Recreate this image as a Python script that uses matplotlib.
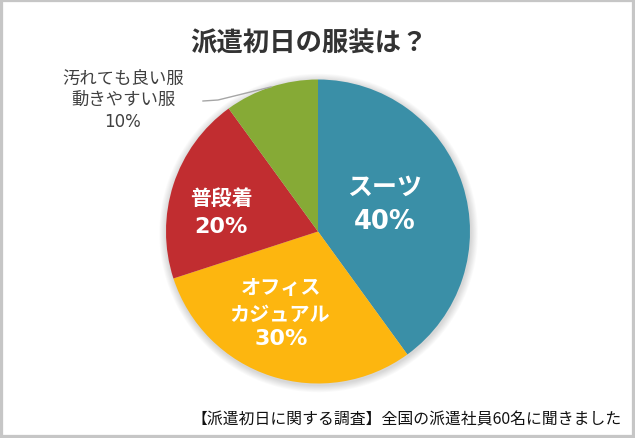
import numpy as np
import matplotlib
matplotlib.use("Agg")
import matplotlib.pyplot as plt
from matplotlib.patches import Rectangle, Circle

plt.rcParams['font.family'] = ['Noto Sans CJK JP', 'DejaVu Sans']

categories = ["スーツ", "オフィス\nカジュアル", "普段着", "汚れても良い服\n動きやすい服"]
values = [40, 30, 20, 10]
colors = ["#3A8FA7", "#FDB60F", "#C12D30", "#86AA36"]

W, H = 635, 439
fig = plt.figure(figsize=(W / 100, H / 100), dpi=100)
fig.patch.set_facecolor("white")

R = 152.0
CX, CY = 318.0, 232.5
ax = fig.add_axes([0, 0, 1, 1])

def px(x, y):
    return (x - CX) / R, (CY - y) / R

# soft shadow
for i in range(8):
    ax.add_patch(Circle((0.004, -0.01), 1.0 + 0.006 * (8 - i), color="#000000",
                        alpha=0.018, lw=0, zorder=0))

wedges, _ = ax.pie(values, colors=colors, startangle=90, counterclock=False,
                   radius=1.0, center=(0, 0), frame=True,
                   wedgeprops=dict(linewidth=0))
ax.set_xlim(-CX / R, (W - CX) / R)
ax.set_ylim(-(H - CY) / R, CY / R)
ax.set_aspect("auto")
ax.axis("off")

white = "white"
num_font = ['DejaVu Sans']
# スーツ
ax.text(*px(385, 188), "スーツ", color=white, fontsize=18, fontweight="bold", ha="center", va="center")
ax.text(*px(385, 222), f"{values[0]}%", color=white, fontsize=18.5, fontweight="bold",
        family=num_font, ha="center", va="center")
# オフィスカジュアル
ax.text(*px(281, 288), "オフィス", color=white, fontsize=14.5, fontweight="bold", ha="center", va="center")
ax.text(*px(280, 314), "カジュアル", color=white, fontsize=14.5, fontweight="bold", ha="center", va="center")
ax.text(*px(281, 339), f"{values[1]}%", color=white, fontsize=16, fontweight="bold",
        family=num_font, ha="center", va="center")
# 普段着
ax.text(*px(221, 198), categories[2], color=white, fontsize=15, fontweight="bold", ha="center", va="center")
ax.text(*px(221, 227), f"{values[2]}%", color=white, fontsize=16, fontweight="bold",
        family=num_font, ha="center", va="center")

# outside label
lab_color = "#404040"
ax.text(*px(123, 79), "汚れても良い服", color=lab_color, fontsize=12.5, ha="center", va="center")
ax.text(*px(123, 100), "動きやすい服", color=lab_color, fontsize=12.5, ha="center", va="center")
ax.text(*px(123, 122), f"{values[3]}%", color=lab_color, fontsize=12, family=num_font,
        ha="center", va="center")

w = wedges[3]
mid = np.deg2rad((w.theta1 + w.theta2) / 2)
ex, ey = np.cos(mid), np.sin(mid)
p1 = px(203, 102)
p2 = px(218, 101)
ax.plot([p1[0], p2[0], ex], [p1[1], p2[1], ey], color="#A6A6A6", lw=1, zorder=5)

# title
fig.text(309 / W, 1 - 44 / H, "派遣初日の服装は？", fontsize=19, fontweight="bold",
         color="#333333", ha="center", va="center")
# footer
fig.text(622 / W, 1 - 420 / H, "【派遣初日に関する調査】全国の派遣社員60名に聞きました",
         fontsize=11.4, color="#111111", ha="right", va="center")

# frame
fig.patches.append(Rectangle((0, 0), 1, 1, transform=fig.transFigure, fill=False,
                             edgecolor="#C6C6C6", linewidth=4.5, zorder=10))

fig.savefig("out.png", dpi=100, facecolor="white")
